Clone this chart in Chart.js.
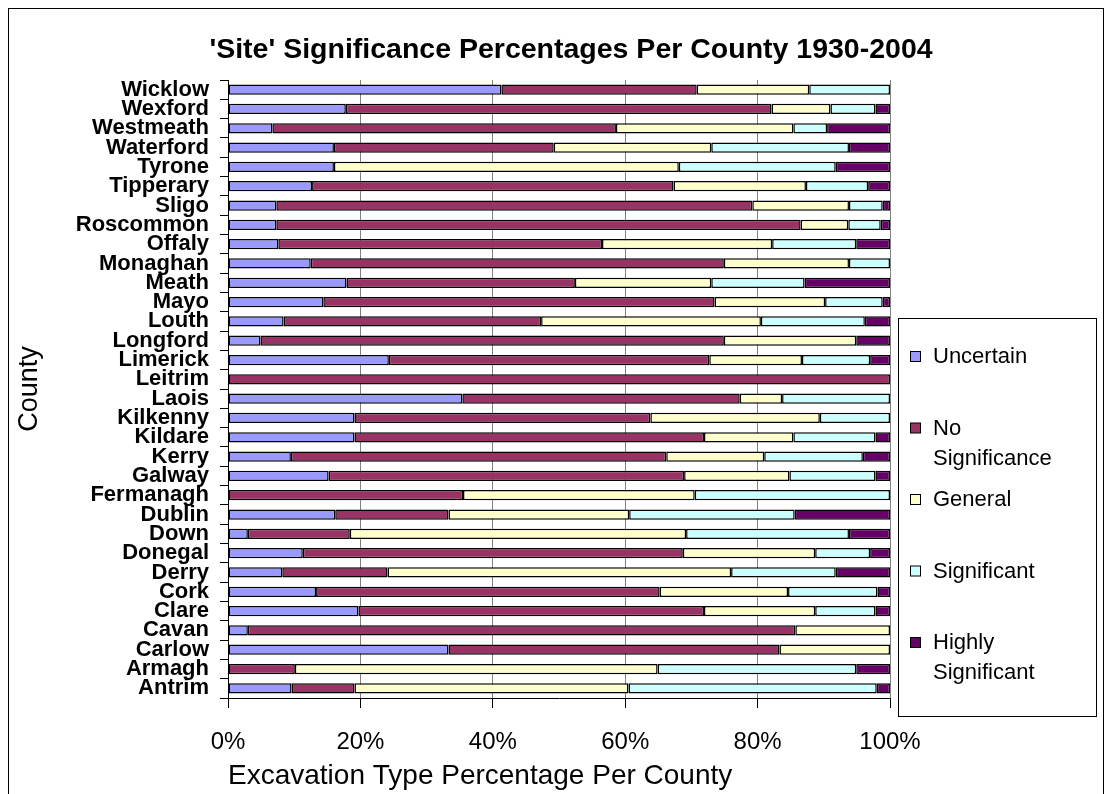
<!DOCTYPE html>
<html>
<head>
<meta charset="utf-8">
<script src="https://cdn.jsdelivr.net/npm/chart.js@4"></script>
<style>
  body { margin: 0; background: #fff; }
  canvas { display: block; }
</style>
</head>
<body>
<canvas id="grafico" width="1112" height="794"></canvas>
<script>
// condados, de arriba hacia abajo
const condados = ['Wicklow','Wexford','Westmeath','Waterford','Tyrone','Tipperary','Sligo','Roscommon','Offaly','Monaghan','Meath','Mayo','Louth','Longford','Limerick','Leitrim','Laois','Kilkenny','Kildare','Kerry','Galway','Fermanagh','Dublin','Down','Donegal','Derry','Cork','Clare','Cavan','Carlow','Armagh','Antrim'];

// porcentajes por categoria
const uncertain   = [41.3,17.8,6.7,16.0,16.0,12.7,7.3,7.3,7.6,12.5,17.9,14.4,8.4,4.9,24.3,0,35.4,19.1,19.1,9.5,15.2,0,16.2,3.0,11.3,8.2,13.3,19.7,3.0,33.3,0,9.6];
const noSig       = [29.5,64.3,51.9,33.2,0,54.6,71.9,79.2,48.9,62.4,34.5,59.1,38.9,70.0,48.4,100,41.9,44.7,52.8,56.7,53.7,35.5,17.1,15.4,57.4,15.9,51.9,52.2,82.7,50.0,10.1,9.5];
const general     = [17.0,8.9,26.8,23.8,52.1,20.0,14.6,7.2,25.7,18.9,20.6,16.7,33.2,20.0,14.0,0,6.4,25.6,13.5,14.8,15.9,35.0,27.3,50.8,20.0,51.9,19.4,16.8,14.3,16.7,54.8,41.4];
const significant = [12.2,6.8,5.1,20.8,23.7,9.4,5.1,4.9,12.7,6.2,14.1,8.7,15.7,0,10.3,0,16.3,10.6,12.4,14.9,13.0,29.5,25.0,24.6,8.3,15.8,13.5,9.1,0,0,30.0,37.5];
const highly      = [0,2.2,9.5,6.2,8.2,3.3,1.1,1.4,5.1,0,12.9,1.1,3.8,5.1,3.0,0,0,0,2.2,4.1,2.2,0,14.4,6.2,3.0,8.2,1.9,2.2,0,0,5.1,2.0];

const series = ['Uncertain','No Significance','General','Significant','Highly Significant'];
const colores = ['#9999FF','#993366','#FFFFCC','#CCFFFF','#660066'];
const ticksX = [0,20,40,60,80,100];
const titulo = "'Site' Significance Percentages Per County 1930-2004";

const fuente = 'Arial, "Liberation Sans", sans-serif';

// marco exterior y titulo
const marco = {
  id: 'marco',
  beforeDraw(chart) {
    const c = chart.ctx;
    c.save();
    c.fillStyle = '#fff';
    c.fillRect(0, 0, chart.width, chart.height);
    c.strokeStyle = '#000';
    c.lineWidth = 1;
    c.strokeRect(8.5, 8.5, 1095, 800);
    c.font = 'bold 28.5px ' + fuente;
    c.fillStyle = '#000';
    c.textAlign = 'center';
    c.textBaseline = 'middle';
    c.fillText(titulo, 571, 50);
    c.restore();
  }
};

// leyenda a mano (con texto partido en lineas)
const leyenda = {
  id: 'leyenda',
  afterDraw(chart) {
    const c = chart.ctx;
    const x0 = 898, y0 = 318, w = 198, h = 398;
    c.save();
    c.strokeStyle = '#000';
    c.lineWidth = 1;
    c.strokeRect(x0 + 0.5, y0 + 0.5, w, h);
    c.font = '22px ' + fuente;
    c.textBaseline = 'middle';
    c.fillStyle = '#000';
    const maxW = 140;
    let y = 357;
    chart.data.datasets.forEach(ds => {
      // partir palabras
      const palabras = ds.label.split(' ');
      const lineas = [];
      let actual = '';
      palabras.forEach(p => {
        const prueba = actual ? actual + ' ' + p : p;
        if (c.measureText(prueba).width > maxW && actual) {
          lineas.push(actual);
          actual = p;
        } else {
          actual = prueba;
        }
      });
      lineas.push(actual);
      c.fillStyle = ds.backgroundColor;
      c.fillRect(910.5, y - 5.5, 10, 10);
      c.strokeStyle = '#000';
      c.strokeRect(910.5, y - 5.5, 10, 10);
      c.fillStyle = '#000';
      lineas.forEach((l, i) => c.fillText(l, 933, y + i * 30));
      y += 71.5;
    });
    c.restore();
  }
};

const datos = [uncertain, noSig, general, significant, highly];

new Chart(document.getElementById('grafico'), {
  type: 'bar',
  data: {
    labels: condados,
    datasets: series.map((s, i) => ({
      label: s,
      data: datos[i],
      backgroundColor: colores[i],
      borderColor: '#000',
      borderWidth: 1.5,
      borderSkipped: false,
      barPercentage: 0.53,
      categoryPercentage: 1
    }))
  },
  options: {
    indexAxis: 'y',
    responsive: false,
    animation: false,
    layout: { padding: { left: 0, right: 222, top: 80, bottom: 0 } },
    plugins: {
      legend: { display: false },
      tooltip: { enabled: false },
      title: { display: false }
    },
    scales: {
      x: {
        stacked: true,
        min: 0,
        max: 100,
        afterBuildTicks(scale) {
          scale.ticks = ticksX.map(v => ({ value: v }));
        },
        afterFit(scale) { scale.height = 96; },
        ticks: {
          color: '#000',
          font: { family: fuente, size: 24 },
          padding: 20,
          callback: v => v + '%'
        },
        grid: { color: '#808080', tickColor: '#000', tickLength: 10 },
        border: { color: '#000' },
        title: {
          display: true,
          align: 'start',
          text: 'Excavation Type Percentage Per County',
          color: '#000',
          font: { family: fuente, size: 28 },
          padding: { top: 0, bottom: 1 }
        }
      },
      y: {
        stacked: true,
        afterFit(scale) { scale.width = 228; },
        ticks: {
          autoSkip: false,
          color: '#000',
          font: { family: fuente, size: 22, weight: 'bold' },
          padding: 11
        },
        grid: { drawOnChartArea: false, tickColor: '#000', tickLength: 8 },
        border: { color: '#000' },
        title: {
          display: true,
          text: 'County',
          color: '#000',
          font: { family: fuente, size: 27 },
          padding: { top: 13, bottom: 0 }
        }
      }
    }
  },
  plugins: [marco, leyenda]
});
</script>
</body>
</html>
